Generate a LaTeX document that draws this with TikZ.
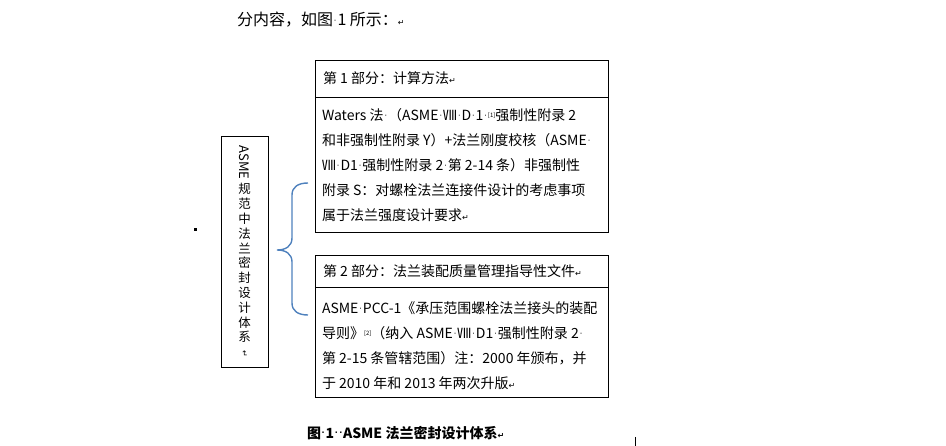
\documentclass[tikz,border=0pt]{standalone}
\usepackage{fontspec}
\setmainfont{Noto Sans CJK SC}
\newfontfamily\symfont{DejaVu Sans}
\usetikzlibrary{positioning}
\definecolor{braceblue}{RGB}{79,129,189}
\newcommand{\ret}{{\symfont\fontsize{8}{8}\selectfont ↵}}
\newcommand{\wsp}{\makebox[4.5pt]{\raisebox{2.5pt}{\symfont\fontsize{8}{8}\selectfont ·}}}
\newcommand{\refmark}[1]{\raisebox{3pt}{\fontsize{6}{6}\selectfont[#1]}}
\begin{document}
\begin{tikzpicture}[x=1pt,y=-1pt,
  every node/.style={inner sep=0pt, outer sep=0pt},
  frame/.style={draw, line width=0.9pt, minimum width=293pt},
  txt/.style={align=left, font=\fontsize{14}{25}\selectfont},
  brace/.style={draw=braceblue, line width=1.4pt}]
\useasboundingbox (0,0) rectangle (946,446);

\node[anchor=west, font=\fontsize{16}{16}\selectfont] (intro) at (237,20) {分内容，如图\wsp 1 所示：\ret};

\node[frame, minimum height=37pt, anchor=north west] (head1) at (315,60) {};
\node[frame, minimum height=135pt, below=0pt of head1] (body1) {};
\node[frame, minimum height=32pt, anchor=north west] (head2) at (315,255) {};
\node[frame, minimum height=110pt, below=0pt of head2] (body2) {};

\node[txt, right=8pt of head1.west] (title1) {第 1 部分：计算方法\ret};
\node[txt, right=7pt of body1.west, yshift=-1pt] (text1) {Waters 法\wsp （ASME\wsp Ⅷ\wsp D\wsp 1\wsp \refmark{1}强制性附录 2\\
和非强制性附录 Y）+法兰刚度校核（ASME\wsp\\
Ⅷ\wsp D1\wsp 强制性附录 2\wsp 第 2-14 条）非强制性\\
附录 S：对螺栓法兰连接件设计的考虑事项\\
属于法兰强度设计要求\ret};
\node[txt, right=8pt of head2.west] (title2) {第 2 部分：法兰装配质量管理指导性文件\ret};
\node[txt, right=7pt of body2.west, yshift=-4pt] (text2) {ASME\wsp PCC-1《承压范围螺栓法兰接头的装配\\
导则》\refmark{2}（纳入 ASME\wsp Ⅷ\wsp D1\wsp 强制性附录 2\wsp\\
第 2-15 条管辖范围）注：2000 年颁布，并\\
于 2010 年和 2013 年两次升版\ret};

\node[frame, minimum width=47pt, minimum height=231pt, anchor=north west,
  align=center, font=\fontsize{12.5}{14.8}\selectfont] (system) at (221,136)
  {\rotatebox{-90}{\fontsize{13}{13}\selectfont ASME}\\[3pt]规\\范\\中\\法\\兰\\密\\封\\设\\计\\体\\系\\[-6pt]\rotatebox{-90}{\ret}};

\node[fill, minimum size=3pt] (mark) at (195,230) {};

\coordinate (btop) at (308,183);
\coordinate (tip) at (277,250);
\coordinate (bbot) at (308,315);
\draw[brace] (btop) .. controls (298,183) and (292,187) .. (292,195) -- (292,238)
  .. controls (292,246) and (286,250) .. (tip)
  .. controls (286,250) and (292,254) .. (292,262) -- (292,303)
  .. controls (292,311) and (298,315) .. (bbot);

\node[anchor=west, font=\fontsize{14}{14}\selectfont\bfseries] (caption) at (307,433) {图\wsp 1\wsp\wsp ASME 法兰密封设计体系\ret};
\draw[line width=0.6pt] (635,437) -- (635,446);
\end{tikzpicture}
\end{document}
